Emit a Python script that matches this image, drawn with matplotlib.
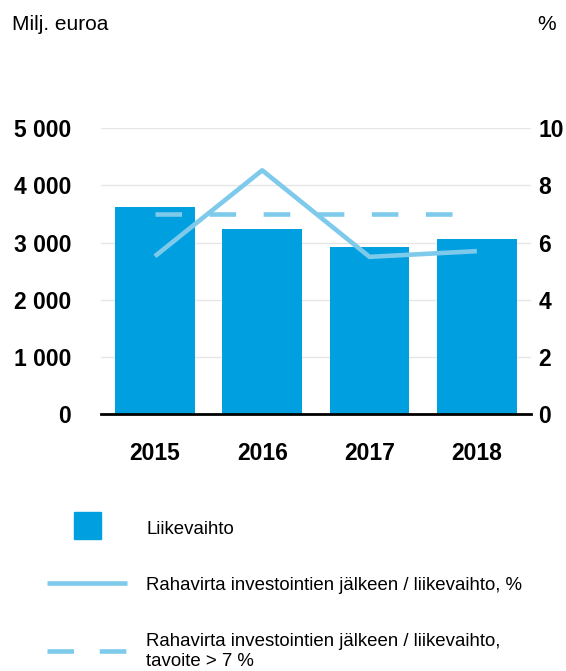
import matplotlib
matplotlib.use("Agg")
import matplotlib.pyplot as plt
from matplotlib.patches import Rectangle
from matplotlib.lines import Line2D

years = ["2015", "2016", "2017", "2018"]
revenue = [3624, 3246, 2920, 3065]          # Milj. euroa
cashflow_pct = [5.52, 8.53, 5.5, 5.7]        # %
target_pct = [7, 7, 7, 7]                    # %
left_ticks = [0, 1000, 2000, 3000, 4000, 5000]
left_labels = ["0", "1 000", "2 000", "3 000", "4 000", "5 000"]
right_ticks = [0, 2, 4, 6, 8, 10]
right_labels = ["0", "2", "4", "6", "8", "10"]
legend_labels = ["Liikevaihto",
                 "Rahavirta investointien jälkeen / liikevaihto, %",
                 "Rahavirta investointien jälkeen / liikevaihto,\ntavoite > 7 %"]

BAR = "#009FDF"
LINE = "#7DCAEB"
FONT = ["Liberation Sans", "DejaVu Sans"]
plt.rcParams["font.family"] = FONT

W, H = 566, 671
fig = plt.figure(figsize=(W / 100, H / 100), dpi=100)
ax_l, ax_r = 101.2 / W, 530.5 / W
ax_t, ax_b = 1 - 128.3 / H, 1 - 414 / H
ax = fig.add_axes([ax_l, ax_b, ax_r - ax_l, ax_t - ax_b])
ax2 = ax.twinx()

tick_fs = 16.5
x = list(range(len(years)))
ax.bar(x, revenue, width=0.742, color=BAR, zorder=2)
ax.set_xlim(-0.5, 3.5)
ax.set_ylim(0, 5000)
ax.set_yticks(left_ticks)
ax.set_yticklabels(left_labels, fontsize=tick_fs, fontweight="bold")
ax.set_xticks(x)
ax.set_xticklabels(years, fontsize=tick_fs, fontweight="bold")
ax.tick_params(axis="y", length=0, pad=21.6)
ax.tick_params(axis="x", length=0, pad=20.5)
ax.grid(axis="y", color="#E6E6E6", linewidth=1.0, zorder=0)
ax.set_axisbelow(True)
for s in ["top", "right", "left"]:
    ax.spines[s].set_visible(False)
ax.spines["bottom"].set_linewidth(2.0)
ax.spines["bottom"].set_color("black")
ax.spines["bottom"].set_zorder(5)

ax2.set_ylim(0, 10)
ax2.set_yticks(right_ticks)
ax2.set_yticklabels(right_labels, fontsize=tick_fs, fontweight="bold")
ax2.tick_params(axis="y", length=0, pad=5.8)
for s in ["top", "right", "left", "bottom"]:
    ax2.spines[s].set_visible(False)
lw = 3.3
ax2.plot(x, cashflow_pct, color=LINE, linewidth=lw, solid_capstyle="butt", zorder=3)
ax2.plot(x, target_pct, color=LINE, linewidth=lw, dashes=(5.8, 6.0),
         dash_capstyle="butt", zorder=3)

fig.text(12.5 / W, 1 - 25 / H, "Milj. euroa", fontsize=15, ha="left", va="center")
fig.text(556 / W, 1 - 25 / H, "%", fontsize=15, ha="right", va="center")

# legend
fig.add_artist(Rectangle((74 / W, 1 - 539 / H), 26.5 / W, 27 / H,
                         transform=fig.transFigure, color=BAR))
fig.add_artist(Line2D([47 / W, 126.5 / W], [1 - 583 / H] * 2, transform=fig.transFigure,
                      color=LINE, linewidth=lw, solid_capstyle="butt"))
fig.add_artist(Line2D([47 / W, 126.5 / W], [1 - 651 / H] * 2, transform=fig.transFigure,
                      color=LINE, linewidth=lw, dashes=(5.8, 5.6), dash_capstyle="butt"))
fs = 13.4
fig.text(146.4 / W, 1 - 529 / H, legend_labels[0], fontsize=fs, ha="left", va="center")
fig.text(146.4 / W, 1 - 585 / H, legend_labels[1], fontsize=fs, ha="left", va="center")
fig.text(146.4 / W, 1 - 651.5 / H, legend_labels[2], fontsize=fs, ha="left", va="center",
         linespacing=1.3)

fig.savefig("out.png", dpi=100)
